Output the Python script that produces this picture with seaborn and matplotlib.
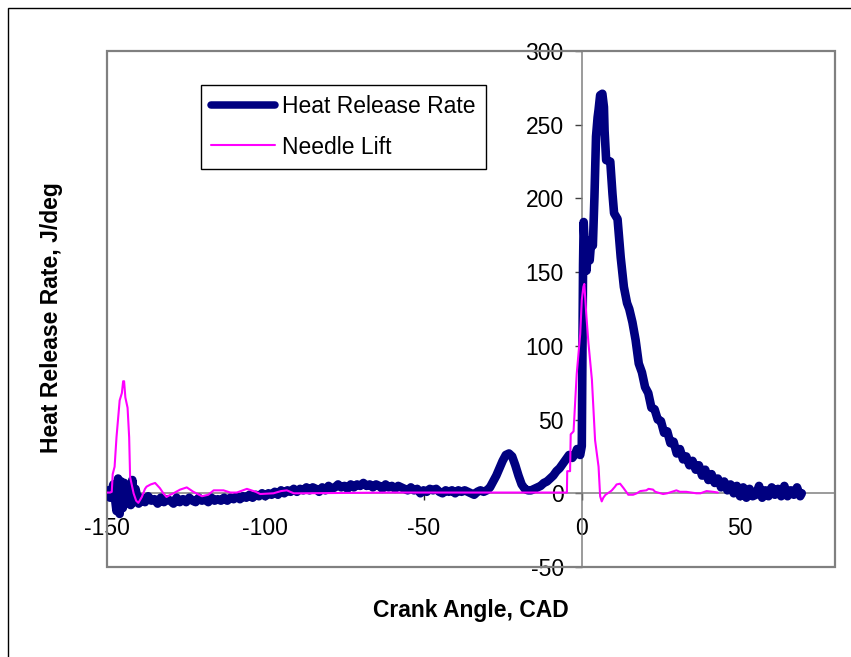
import numpy as np
import pandas as pd
import matplotlib
matplotlib.use("Agg")
import matplotlib.pyplot as plt
from matplotlib.patches import Rectangle
from matplotlib.lines import Line2D
import seaborn as sns

# ---------------- data ----------------
hrr_cad = [-150, -149, -148, -147, -146.5, -146, -145.5, -145, -144.5, -144, -143, -142.5, -142, -141.5, -141,
           -140, -139, -138, -137, -136, -135, -134, -133, -132, -131, -130, -129, -128, -127, -126, -125,
           -124, -123, -122, -121, -120, -119, -118, -117, -116, -115, -114, -113, -112, -111, -110, -109,
           -108, -107, -106, -105, -104, -103, -102, -101, -100, -99, -98, -97, -96, -95, -94, -93, -92, -91,
           -90, -89, -88, -87, -86, -85, -84, -83, -82, -81, -80, -79, -78, -77, -76, -75, -74, -73, -72, -71,
           -70, -69, -68, -67, -66, -65, -64, -63, -62, -61, -60, -59, -58, -57, -56, -55, -54, -53, -52, -51,
           -50, -49, -48, -47, -46, -45, -44, -43, -42, -41, -40, -39, -38, -37, -36, -35, -34, -33, -32, -31,
           -30, -29, -28, -27, -26, -25, -24, -23, -22, -21, -20, -19, -18, -17, -16, -15, -14, -13, -12, -11,
           -10, -9, -8, -7, -6, -5, -4, -3, -2, -1.5, -1, -0.5, 0, 0.2, 0.4, 0.6, 1.0, 1.5, 2.0, 2.5, 3.0, 3.5,
           4.0, 4.5, 5.0, 5.3, 5.8, 6.5, 7.0, 7.2, 7.7, 9.0, 9.7, 10.2, 11.3, 12.3, 13.3, 14.3, 15.0,
           16, 17, 18, 19, 20, 21, 22, 23, 24, 25, 26, 27, 28, 29, 30, 31, 32, 33, 34, 35, 36, 37, 38, 39,
           40, 41, 42, 43, 44, 45, 46, 47, 48, 49, 50, 51, 52, 53, 54,
           55, 56, 57, 58, 59, 60, 61, 62, 63, 64, 65, 66, 67, 68, 69, 69.5]
hrr_val = [2, -3, 6, -12, 10, -14, 8, -10, 7, -6, 5, -8, 9, -6, 3,
           -7, -3, -6, -2, -5, -4, -7, -3, -6, -4, -5, -7, -3, -6, -4, -6,
           -3, -5, -6, -3, -5, -4, -6, -3, -5, -4, -5, -3, -5, -3, -4, -2,
           -4, -2, -3, -1, -3, -1, -2, 0, -2, 0, -1, 1, -1, 2, 0, 2, 1, 3,
           1, 3, 2, 4, 2, 4, 3, 1, 4, 2, 5, 3, 4, 6, 4, 5, 3, 6, 4, 6,
           5, 7, 5, 6, 4, 6, 5, 3, 6, 4, 5, 3, 5, 4, 3, 2, 4, 2, 3, 0,
           2, 1, 3, 2, 3, 1, 0, 2, 1, 2, 0, 2, 1, 2, 1, 0, -1, 1, 2, 1,
           2, 4, 8, 12, 17, 22, 26, 27, 25, 19, 12, 6, 3, 2, 2, 3, 4, 5, 7, 8,
           10, 12, 15, 17, 20, 23, 26, 24, 27, 30, 28, 26, 32, 90, 155, 184, 165, 151, 170, 158, 172, 168,
           201, 242, 255, 260, 270, 271, 262, 246, 226, 225, 203, 190, 186, 160, 140, 129, 125,
           116, 104, 88, 82, 72, 68, 58, 57, 50, 49, 41, 42, 34, 35, 27, 30, 23, 25, 19, 22, 16, 19, 12, 16,
           9, 13, 7, 10, 4, 8, 2, 6, 0, 5, -2, 4, -3, 3, -2,
           -1, 5, -3, 2, -2, 4, -1, 3, -2, 5, -2, 2, -1, 4, -2, 0]

needle_cad = [-150, -149, -148.5, -148.2, -147.6, -147, -146, -145.3, -144.9, -144.6, -144.2, -143.5, -143,
              -142.7, -141.6, -140.8, -140.1, -139, -138, -137.5, -136.2, -134.8, -133.3, -132.2, -131.2,
              -130, -129, -126.9, -124.8, -122.7, -120, -118, -116.3, -113.2, -111, -109, -105.8, -103,
              -101.6, -97.4, -95, -93.2, -91, -89, -60, -30, -10, -4.7, -4.6, -3.7, -3.5, -2.6, -1.6, -0.5,
              0, 0.5, 0.8, 1.4, 2.1, 3.2, 4.2, 5.3, 5.8, 6.3, 6.8, 7.5, 8.9, 9.5, 10.5, 11, 12.1, 13.2,
              14.7, 16.2, 17.4, 18.5, 20.4, 21.1, 22.5, 23.2, 25.7, 27, 29.9, 31, 33, 36.2, 37.5, 39.4,
              41.5, 43]
needle_val = [0.5, 0.5, 1, 13, 18, 38, 63, 68, 76, 76, 65, 58, 38,
              11, 0, -5, -6.5, -2.5, 3, 4.5, 6, 7, 3.5, 0, -2.5,
              -1, 0, 2.5, 4, 1, -2, -1, 2, 2, 0.5, 0.5, 3, 1,
              -0.5, 0, 1.5, 2, 0, 0, 0.5, 0.5, 0.5, 0.5, 15, 15, 40, 42, 81, 108,
              131, 140, 142, 122, 102, 77, 36, 18, -2, -5.5, -3, -1, 1, 2, 4.5, 6, 6.5, 3.5,
              -1, -1, 0, 1.5, 2, 3, 2.5, 1, -0.5, 0, 2, 1, 1, 0, 0, 1.5,
              1, 0.5]

x_ticks = [-150, -100, -50, 0, 50]
y_ticks = [-50, 0, 50, 100, 150, 200, 250, 300]
series_names = ["Heat Release Rate", "Needle Lift"]
x_title = "Crank Angle, CAD"
y_title = "Heat Release Rate, J/deg"

# ---------------- styling ----------------
sns.set_theme(style="white")
plt.rcParams["font.family"] = ["Liberation Sans", "DejaVu Sans"]
plt.rcParams["text.color"] = "black"
plt.rcParams["axes.labelcolor"] = "black"
plt.rcParams["xtick.color"] = "black"
plt.rcParams["ytick.color"] = "black"

W, H = 851, 657
fig = plt.figure(figsize=(W / 100, H / 100), dpi=100)
fig.patch.set_facecolor("white")

left, right, top, bottom = 107, 835, 51, 567
ax = fig.add_axes([left / W, 1 - bottom / H, (right - left) / W, (bottom - top) / H])
ax.set_facecolor("white")

navy = "#000080"
magenta = "#FF00FF"
gray = "#808080"
hrr_lw = 6.2

df_hrr = pd.DataFrame({"cad": hrr_cad, "val": hrr_val})
df_nl = pd.DataFrame({"cad": needle_cad, "val": needle_val})

sns.lineplot(data=df_hrr, x="cad", y="val", ax=ax, color=navy, lw=hrr_lw,
             sort=False, estimator=None, solid_joinstyle="round", solid_capstyle="round", zorder=3)
sns.lineplot(data=df_nl, x="cad", y="val", ax=ax, color=magenta, lw=1.5,
             sort=False, estimator=None, zorder=4)

ax.set_xlim(-150, 80)
ax.set_ylim(-50, 300)
ax.set_xticks(x_ticks)
ax.set_yticks(y_ticks)
ax.set_xlabel("")
ax.set_ylabel("")

# axis lines crossing at zero (Excel style)
ax.spines["left"].set_position(("data", 0))
ax.spines["bottom"].set_position(("data", 0))
for s in ["left", "bottom"]:
    ax.spines[s].set_color(gray)
    ax.spines[s].set_linewidth(1.1)
    ax.spines[s].set_zorder(2)
for s in ["top", "right"]:
    ax.spines[s].set_visible(False)

ax.add_patch(Rectangle((0, 0), 1, 1, transform=ax.transAxes, fill=False,
                       ec=gray, lw=1.6, clip_on=False, zorder=1))

ax.tick_params(axis="y", which="major", direction="out", length=5, width=1,
               color="#404040", pad=8, labelsize=16.5, labelcolor="black", left=True)
ax.tick_params(axis="x", which="major", direction="out", length=5, width=1,
               color="#202020", pad=12, labelsize=16.5, labelcolor="black", bottom=True)
ax.set_xticklabels([str(v) for v in x_ticks])
ax.set_yticklabels([str(v) for v in y_ticks])

# axis titles
fig.text(471 / W, 1 - 610 / H, x_title, ha="center", va="center",
         fontsize=16.5, fontweight="bold", color="black")
fig.text(52 / W, 1 - 318 / H, y_title, ha="center", va="center", rotation=90,
         fontsize=16.5, fontweight="bold", color="black")

# legend
handles = [Line2D([], [], color=navy, lw=5.4, solid_capstyle="round"),
           Line2D([], [], color=magenta, lw=1.5)]
leg = ax.legend(handles, series_names, loc="upper left",
                bbox_to_anchor=((201 - left) / (right - left), (bottom - 85) / (bottom - top)),
                borderaxespad=0, frameon=True, fancybox=False, shadow=False,
                fontsize=16.5, handlelength=2.8, handletextpad=0.3,
                labelspacing=0.75, borderpad=0.45)
leg.get_frame().set_edgecolor("black")
leg.get_frame().set_linewidth(1.0)
leg.get_frame().set_alpha(1)
for t in leg.get_texts():
    t.set_color("black")

# outer chart border
fig.add_artist(Rectangle((8 / W, -0.1), 1.2, 1 - 8 / H + 0.1, transform=fig.transFigure,
                         fill=False, ec="black", lw=1.0))

fig.savefig("out.png", dpi=100, facecolor="white")
